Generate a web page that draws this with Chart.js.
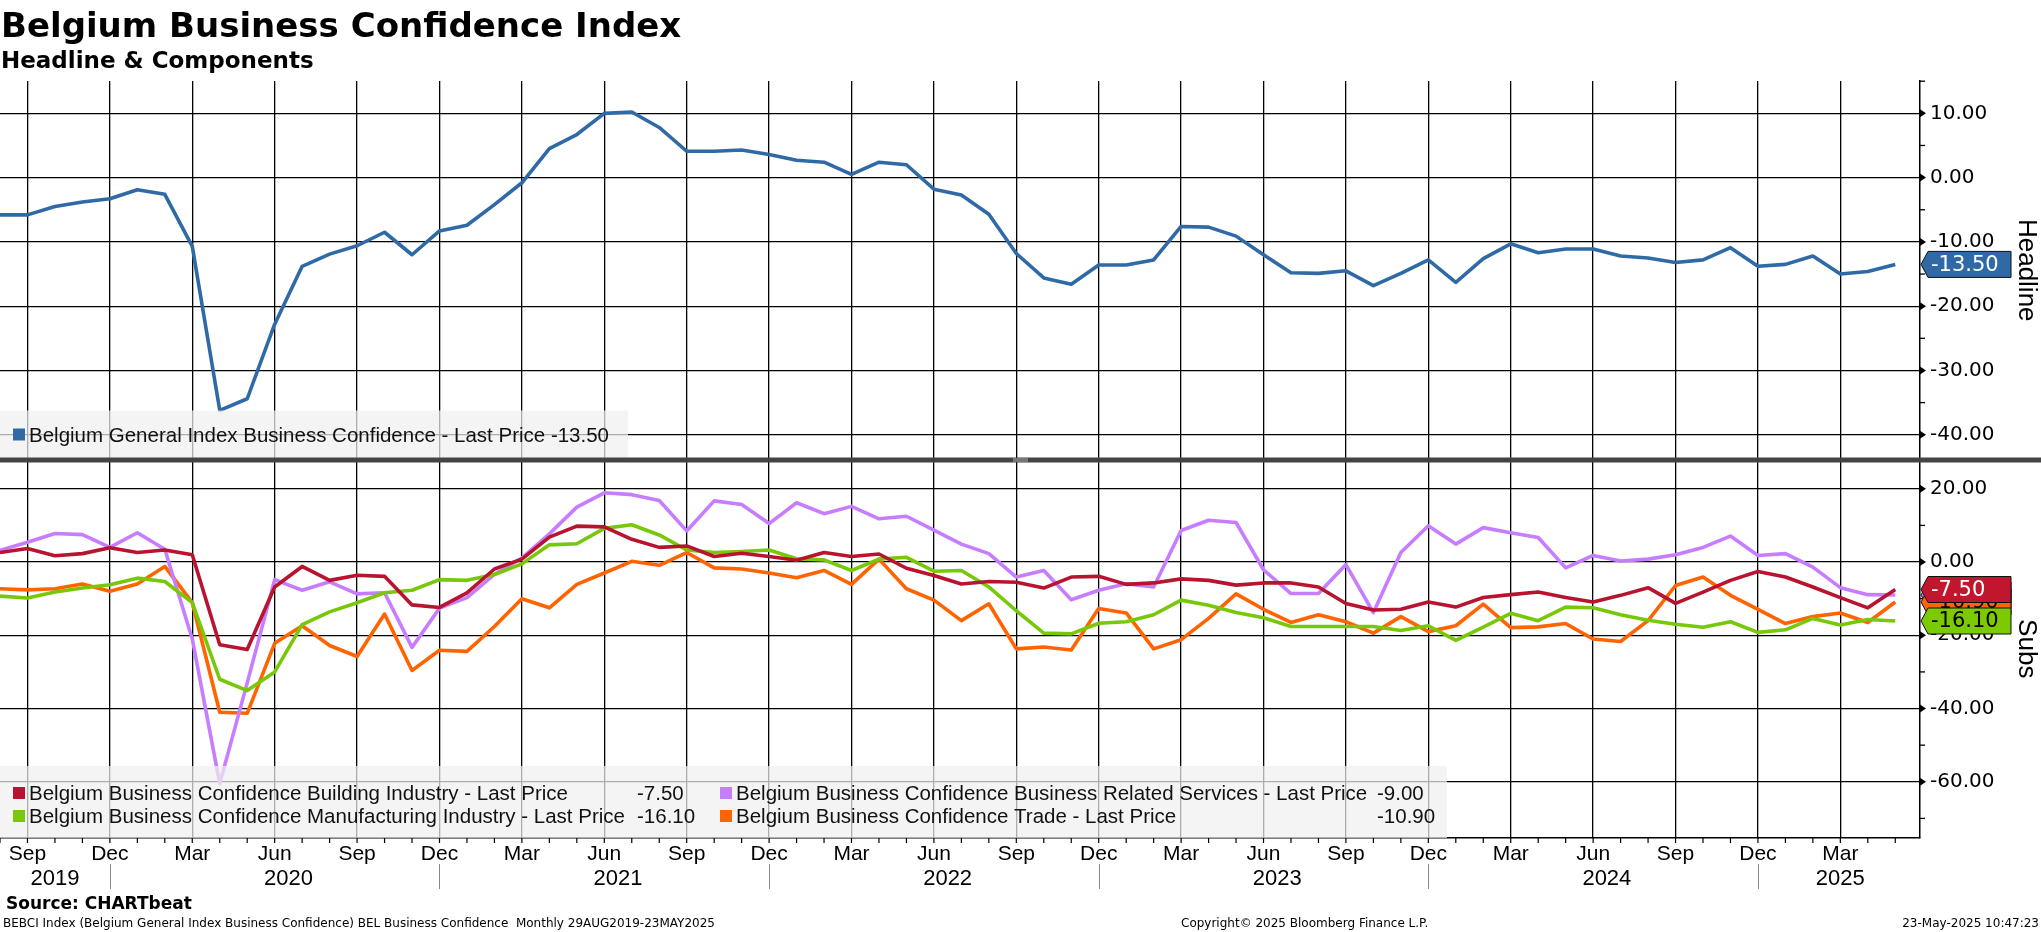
<!DOCTYPE html>
<html lang="en">
<head>
  <meta charset="UTF-8">
  <title>Belgium Business Confidence Index</title>
  <script src="https://cdn.jsdelivr.net/npm/chart.js"></script>
  <style>
    html, body { margin: 0; padding: 0; background: #fff; }
    body { width: 2041px; height: 932px; overflow: hidden; }
    canvas { display: block; }
  </style>
</head>
<body>
  <canvas id="bebci" width="2041" height="932"></canvas>
  <script>
    // monthly observations, Aug 2019 - May 2025
    const months = [
      'Aug 2019','Sep 2019','Oct 2019','Nov 2019','Dec 2019',
      'Jan 2020','Feb 2020','Mar 2020','Apr 2020','May 2020','Jun 2020','Jul 2020','Aug 2020','Sep 2020','Oct 2020','Nov 2020','Dec 2020',
      'Jan 2021','Feb 2021','Mar 2021','Apr 2021','May 2021','Jun 2021','Jul 2021','Aug 2021','Sep 2021','Oct 2021','Nov 2021','Dec 2021',
      'Jan 2022','Feb 2022','Mar 2022','Apr 2022','May 2022','Jun 2022','Jul 2022','Aug 2022','Sep 2022','Oct 2022','Nov 2022','Dec 2022',
      'Jan 2023','Feb 2023','Mar 2023','Apr 2023','May 2023','Jun 2023','Jul 2023','Aug 2023','Sep 2023','Oct 2023','Nov 2023','Dec 2023',
      'Jan 2024','Feb 2024','Mar 2024','Apr 2024','May 2024','Jun 2024','Jul 2024','Aug 2024','Sep 2024','Oct 2024','Nov 2024','Dec 2024',
      'Jan 2025','Feb 2025','Mar 2025','Apr 2025','May 2025'
    ];

    const headline = [
      -5.8, -5.8, -4.5, -3.8, -3.3, -1.9, -2.6, -10.7, -36.2, -34.4,
      -22.8, -13.8, -11.9, -10.6, -8.5, -12.0, -8.3, -7.4, -4.2, -0.8,
      4.5, 6.7, 10.0, 10.2, 7.8, 4.1, 4.1, 4.3, 3.6, 2.7,
      2.4, 0.5, 2.4, 2.0, -1.8, -2.7, -5.7, -11.8, -15.6, -16.6,
      -13.6, -13.6, -12.8, -7.6, -7.7, -9.1, -12.0, -14.8, -14.9, -14.5,
      -16.8, -14.9, -12.8, -16.3, -12.6, -10.3, -11.7, -11.1, -11.1, -12.2,
      -12.5, -13.2, -12.8, -10.9, -13.8, -13.5, -12.2, -15.0, -14.6, -13.5
    ];
    const building = [
      2.6, 3.7, 1.7, 2.3, 3.9, 2.6, 3.3, 2.0, -22.6, -23.9,
      -6.8, -1.2, -5.0, -3.6, -3.9, -11.7, -12.4, -8.4, -1.9, 0.8,
      6.8, 9.8, 9.6, 6.2, 4.0, 4.4, 1.5, 2.4, 1.5, 0.5,
      2.6, 1.5, 2.2, -1.7, -3.7, -6.0, -5.3, -5.5, -7.1, -4.1,
      -3.9, -6.1, -5.7, -4.6, -5.0, -6.3, -5.7, -5.7, -6.8, -11.3,
      -13.1, -12.9, -10.9, -12.3, -9.7, -8.9, -8.2, -9.7, -10.9, -9.1,
      -7.0, -11.3, -8.2, -5.0, -2.6, -4.1, -6.8, -9.7, -12.5, -7.5
    ];
    const manufacturing = [
      -9.3, -9.8, -8.2, -7.1, -6.2, -4.4, -5.3, -11.1, -32.0, -35.1,
      -30.0, -17.1, -13.6, -11.1, -8.4, -7.7, -4.8, -5.0, -3.4, -0.5,
      4.7, 5.0, 9.2, 10.2, 7.4, 3.3, 2.6, 2.9, 3.3, 0.9,
      0.6, -2.3, 0.8, 1.3, -2.5, -2.3, -6.8, -13.3, -19.4, -19.6,
      -16.7, -16.3, -14.4, -10.4, -11.8, -13.8, -15.2, -17.6, -17.6, -17.6,
      -17.6, -18.7, -17.4, -21.4, -17.8, -14.0, -16.0, -12.3, -12.5, -14.4,
      -15.9, -17.0, -17.8, -16.3, -19.2, -18.5, -15.4, -17.2, -15.7, -16.1
    ];
    const services = [
      3.2, 5.4, 7.8, 7.5, 4.0, 8.0, 3.5, -21.0, -60.5, -33.0,
      -4.8, -7.7, -5.4, -8.7, -8.4, -23.3, -12.6, -9.7, -3.4, 1.1,
      7.7, 15.0, 18.9, 18.4, 16.8, 8.5, 16.7, 15.7, 10.5, 16.2,
      13.2, 15.2, 11.8, 12.5, 8.7, 4.9, 2.3, -4.1, -2.3, -10.3,
      -7.7, -5.9, -6.8, 8.6, 11.4, 10.8, -2.1, -8.6, -8.6, -0.7,
      -13.8, 2.6, 9.9, 4.9, 9.4, 8.0, 6.7, -1.6, 1.8, 0.3,
      0.8, 2.0, 4.0, 7.1, 1.8, 2.3, -1.4, -7.0, -8.9, -9.0
    ];
    const trade = [
      -7.3, -7.6, -7.3, -6.0, -8.0, -6.0, -1.2, -11.1, -41.0, -41.3,
      -22.2, -17.4, -22.8, -25.8, -14.2, -29.6, -24.1, -24.4, -17.6, -10.0,
      -12.5, -6.1, -3.0, 0.2, -0.9, 2.6, -1.6, -1.9, -3.0, -4.3,
      -2.3, -6.1, 0.8, -7.3, -10.4, -16.0, -11.4, -23.7, -23.2, -24.0,
      -12.7, -13.9, -23.7, -21.2, -15.4, -8.7, -12.9, -16.5, -14.4, -16.3,
      -19.4, -14.9, -19.0, -17.4, -11.5, -17.9, -17.7, -16.8, -21.0, -21.7,
      -16.0, -6.4, -4.1, -9.1, -12.9, -16.8, -14.9, -13.9, -16.5, -10.9
    ];

    const headlineTicks = [10, 0, -10, -20, -30, -40];
    const subsTicks = [20, 0, -20, -40, -60];
    const quarterMonths = ['Sep', 'Dec', 'Mar', 'Jun'];
    const years = ['2019', '2020', '2021', '2022', '2023', '2024', '2025'];

    const BLUE = '#2f6aa7', RED = '#b8142f', GREEN = '#78c80a', VIOLET = '#c77dff', ORANGE = '#ff6400';
    const SANS = '"Liberation Sans", Arial, sans-serif';
    const DEJA = '"DejaVu Sans", Verdana, sans-serif';

    const toXY = arr => arr.map((v, i) => ({ x: i, y: v }));
    const quarterIdx = months.map((m, i) => quarterMonths.includes(m.slice(0, 3)) ? i : -1).filter(i => i >= 0);

    function line(label, arr, color, axis) {
      return { label, data: toXY(arr), yAxisID: axis, borderColor: color, backgroundColor: color,
               borderWidth: 3.6, pointRadius: 0, tension: 0, fill: false, borderJoinStyle: 'round' };
    }

    function tag(ctx, y, fill, textColor, text) {
      const x0 = 1921, x1 = 1928, x2 = 2011, h = 26;
      ctx.beginPath();
      ctx.moveTo(x0, y);
      ctx.lineTo(x1, y - h / 2);
      ctx.lineTo(x2, y - h / 2);
      ctx.lineTo(x2, y + h / 2);
      ctx.lineTo(x1, y + h / 2);
      ctx.closePath();
      ctx.fillStyle = fill;
      ctx.fill();
      ctx.strokeStyle = '#111';
      ctx.lineWidth = 1;
      ctx.stroke();
      ctx.fillStyle = textColor;
      ctx.font = '21px ' + DEJA;
      ctx.textAlign = 'left';
      ctx.textBaseline = 'middle';
      ctx.fillText(text, 1931, y + 1);
    }

    function axisMarks(ctx, scale, majors, step) {
      const xa = scale.left;
      ctx.fillStyle = '#000';
      ctx.strokeStyle = '#000';
      ctx.lineWidth = 1.3;
      majors.forEach(v => {
        const y = scale.getPixelForValue(v);
        ctx.beginPath();
        ctx.moveTo(xa, y - 4);
        ctx.lineTo(xa + 6, y);
        ctx.lineTo(xa, y + 4);
        ctx.closePath();
        ctx.fill();
      });
      for (let v = Math.ceil(scale.min / step) * step; v <= scale.max; v += step) {
        if (majors.includes(v)) continue;
        const y = scale.getPixelForValue(v);
        ctx.beginPath();
        ctx.moveTo(xa, y);
        ctx.lineTo(xa + 5, y);
        ctx.stroke();
      }
    }

    function vertText(ctx, text, x, y) {
      ctx.save();
      ctx.translate(x, y);
      ctx.rotate(Math.PI / 2);
      ctx.font = '26px ' + SANS;
      ctx.fillStyle = '#000';
      ctx.textAlign = 'center';
      ctx.textBaseline = 'middle';
      ctx.fillText(text, 0, 0);
      ctx.restore();
    }

    const decor = {
      id: 'decor',
      afterDatasetsDraw(chart) {
        const { ctx, scales } = chart;
        const yT = scales.yTop, yB = scales.yBot;
        const ds = chart.data.datasets;
        ctx.save();

        // legend panels
        ctx.fillStyle = 'rgba(240,240,240,0.72)';
        ctx.fillRect(0, yT.bottom - 49, 628, 49);
        ctx.fillRect(0, yB.bottom - 72, 1447, 72);

        ctx.font = '20.5px ' + SANS;
        ctx.textBaseline = 'alphabetic';
        ctx.textAlign = 'left';
        const entry = (d, x, base, valX, arr) => {
          ctx.fillStyle = d.borderColor;
          ctx.fillRect(x, base - 13, 12, 12);
          ctx.fillStyle = '#111';
          const txt = d.label + ' - Last Price';
          ctx.fillText(txt, x + 16, base);
          const val = arr[arr.length - 1].toFixed(2);
          ctx.fillText(val, valX === null ? x + 16 + ctx.measureText(txt + ' ').width : valX, base);
        };
        const topBase = yT.bottom - 18;
        entry(ds[0], 13, topBase, null, headline);
        const r1 = yB.bottom - 38, r2 = yB.bottom - 15;
        entry(ds[1], 13, r1, 637, building);
        entry(ds[2], 13, r2, 637, manufacturing);
        entry(ds[3], 720, r1, 1377, services);
        entry(ds[4], 720, r2, 1377, trade);

        // axis decorations
        axisMarks(ctx, yT, headlineTicks, 5);
        axisMarks(ctx, yB, subsTicks, 10);

        // last value tags
        tag(ctx, yT.getPixelForValue(headline[headline.length - 1]), BLUE, '#fff', headline[headline.length - 1].toFixed(2));
        tag(ctx, yB.getPixelForValue(services[services.length - 1]), VIOLET, '#000', services[services.length - 1].toFixed(2));
        tag(ctx, yB.getPixelForValue(trade[trade.length - 1]), ORANGE, '#000', trade[trade.length - 1].toFixed(2));
        tag(ctx, yB.getPixelForValue(building[building.length - 1]), '#c0172f', '#fff', building[building.length - 1].toFixed(2));
        tag(ctx, yB.getPixelForValue(manufacturing[manufacturing.length - 1]), '#7cca00', '#000', manufacturing[manufacturing.length - 1].toFixed(2));

        // panel divider
        const sy = yT.bottom;
        ctx.fillStyle = '#444';
        ctx.fillRect(0, sy - 2, chart.width, 5);
        ctx.strokeStyle = '#aaa';
        ctx.lineWidth = 1;
        ctx.beginPath();
        ctx.moveTo(1013, sy - 0.5); ctx.lineTo(1028, sy - 0.5);
        ctx.moveTo(1013, sy + 1.5); ctx.lineTo(1028, sy + 1.5);
        ctx.stroke();

        vertText(ctx, 'Headline', 2026, (yT.top + yT.bottom) / 2);
        vertText(ctx, 'Subs', 2026, (yB.top + yB.bottom) / 2);
        ctx.restore();
      },
      afterDraw(chart) {
        const { ctx, scales } = chart;
        const x = scales.x;
        const base = x.top;
        ctx.save();

        // monthly ticks under the axis
        ctx.strokeStyle = '#000';
        ctx.lineWidth = 1.2;
        months.forEach((m, i) => {
          const px = x.getPixelForValue(i);
          ctx.beginPath();
          ctx.moveTo(px, base);
          ctx.lineTo(px, base + 5);
          ctx.stroke();
        });

        // quarter labels
        ctx.fillStyle = '#000';
        ctx.font = '21px ' + SANS;
        ctx.textAlign = 'center';
        ctx.textBaseline = 'alphabetic';
        quarterIdx.forEach(i => ctx.fillText(months[i].slice(0, 3), x.getPixelForValue(i), base + 22));

        // year labels centred on the visible months of each year
        ctx.font = '22px ' + SANS;
        years.forEach(yr => {
          const idx = months.map((m, i) => m.endsWith(yr) ? i : -1).filter(i => i >= 0);
          const mid = (idx[0] + idx[idx.length - 1]) / 2;
          ctx.fillText(yr, x.getPixelForValue(mid), base + 47);
        });
        ctx.strokeStyle = '#888';
        ctx.lineWidth = 1;
        months.forEach((m, i) => {
          if (!m.startsWith('Dec')) return;
          const px = Math.round(x.getPixelForValue(i)) + 0.5;
          ctx.beginPath();
          ctx.moveTo(px, base + 26);
          ctx.lineTo(px, base + 51);
          ctx.stroke();
        });

        // titles
        ctx.textAlign = 'left';
        ctx.fillStyle = '#000';
        ctx.font = 'bold 34px ' + DEJA;
        ctx.fillText('Belgium Business Confidence Index', 1, 37);
        ctx.font = 'bold 23px ' + DEJA;
        ctx.fillText('Headline & Components', 1, 68);

        // footer
        ctx.font = 'bold 17px ' + DEJA;
        ctx.fillText('Source: CHARTbeat', 6, 909);
        ctx.font = '12px ' + DEJA;
        ctx.fillText('BEBCI Index (Belgium General Index Business Confidence) BEL Business Confidence  Monthly 29AUG2019-23MAY2025', 3, 927);
        ctx.fillText('Copyright\u00A9 2025 Bloomberg Finance L.P.', 1181, 927);
        ctx.textAlign = 'right';
        ctx.fillText('23-May-2025 10:47:23', 2039, 927);
        ctx.restore();
      }
    };

    const gridStyle = { color: '#000', lineWidth: 1.3, drawTicks: false };
    const tickFont = { family: 'DejaVu Sans', size: 20 };

    const chart = new Chart(document.getElementById('bebci'), {
      type: 'line',
      data: {
        datasets: [
          line('Belgium General Index Business Confidence', headline, BLUE, 'yTop'),
          line('Belgium Business Confidence Building Industry', building, RED, 'yBot'),
          line('Belgium Business Confidence Manufacturing Industry', manufacturing, GREEN, 'yBot'),
          line('Belgium Business Confidence Business Related Services', services, VIOLET, 'yBot'),
          line('Belgium Business Confidence Trade', trade, ORANGE, 'yBot')
        ]
      },
      options: {
        responsive: false,
        animation: false,
        devicePixelRatio: 1,
        layout: { padding: { top: 81, left: 0, right: 0, bottom: 0 } },
        plugins: { legend: { display: false }, tooltip: { enabled: false }, title: { display: false } },
        scales: {
          x: {
            type: 'linear', position: 'bottom', min: 0, max: 69.9,
            afterBuildTicks: s => { s.ticks = quarterIdx.map(v => ({ value: v })); },
            afterFit: s => { s.height = 94; },
            ticks: { display: false },
            grid: gridStyle,
            border: { display: true, color: '#000', width: 1.5 }
          },
          yTop: {
            type: 'linear', position: 'right', stack: 'panels', stackWeight: 1,
            min: -43.85, max: 15.03,
            afterBuildTicks: s => { s.ticks = headlineTicks.map(v => ({ value: v })); },
            afterFit: s => { s.width = 121; },
            ticks: { color: '#000', font: tickFont, padding: 10, callback: v => v.toFixed(2) },
            grid: gridStyle,
            border: { display: true, color: '#000', width: 1.5 }
          },
          yBot: {
            type: 'linear', position: 'right', stack: 'panels', stackWeight: 1,
            min: -75.35, max: 28.0,
            afterBuildTicks: s => { s.ticks = subsTicks.map(v => ({ value: v })); },
            afterFit: s => { s.width = 121; },
            ticks: { color: '#000', font: tickFont, padding: 10, callback: v => v.toFixed(2) },
            grid: gridStyle,
            border: { display: true, color: '#000', width: 1.5 }
          }
        }
      },
      plugins: [decor]
    });
  </script>
</body>
</html>
